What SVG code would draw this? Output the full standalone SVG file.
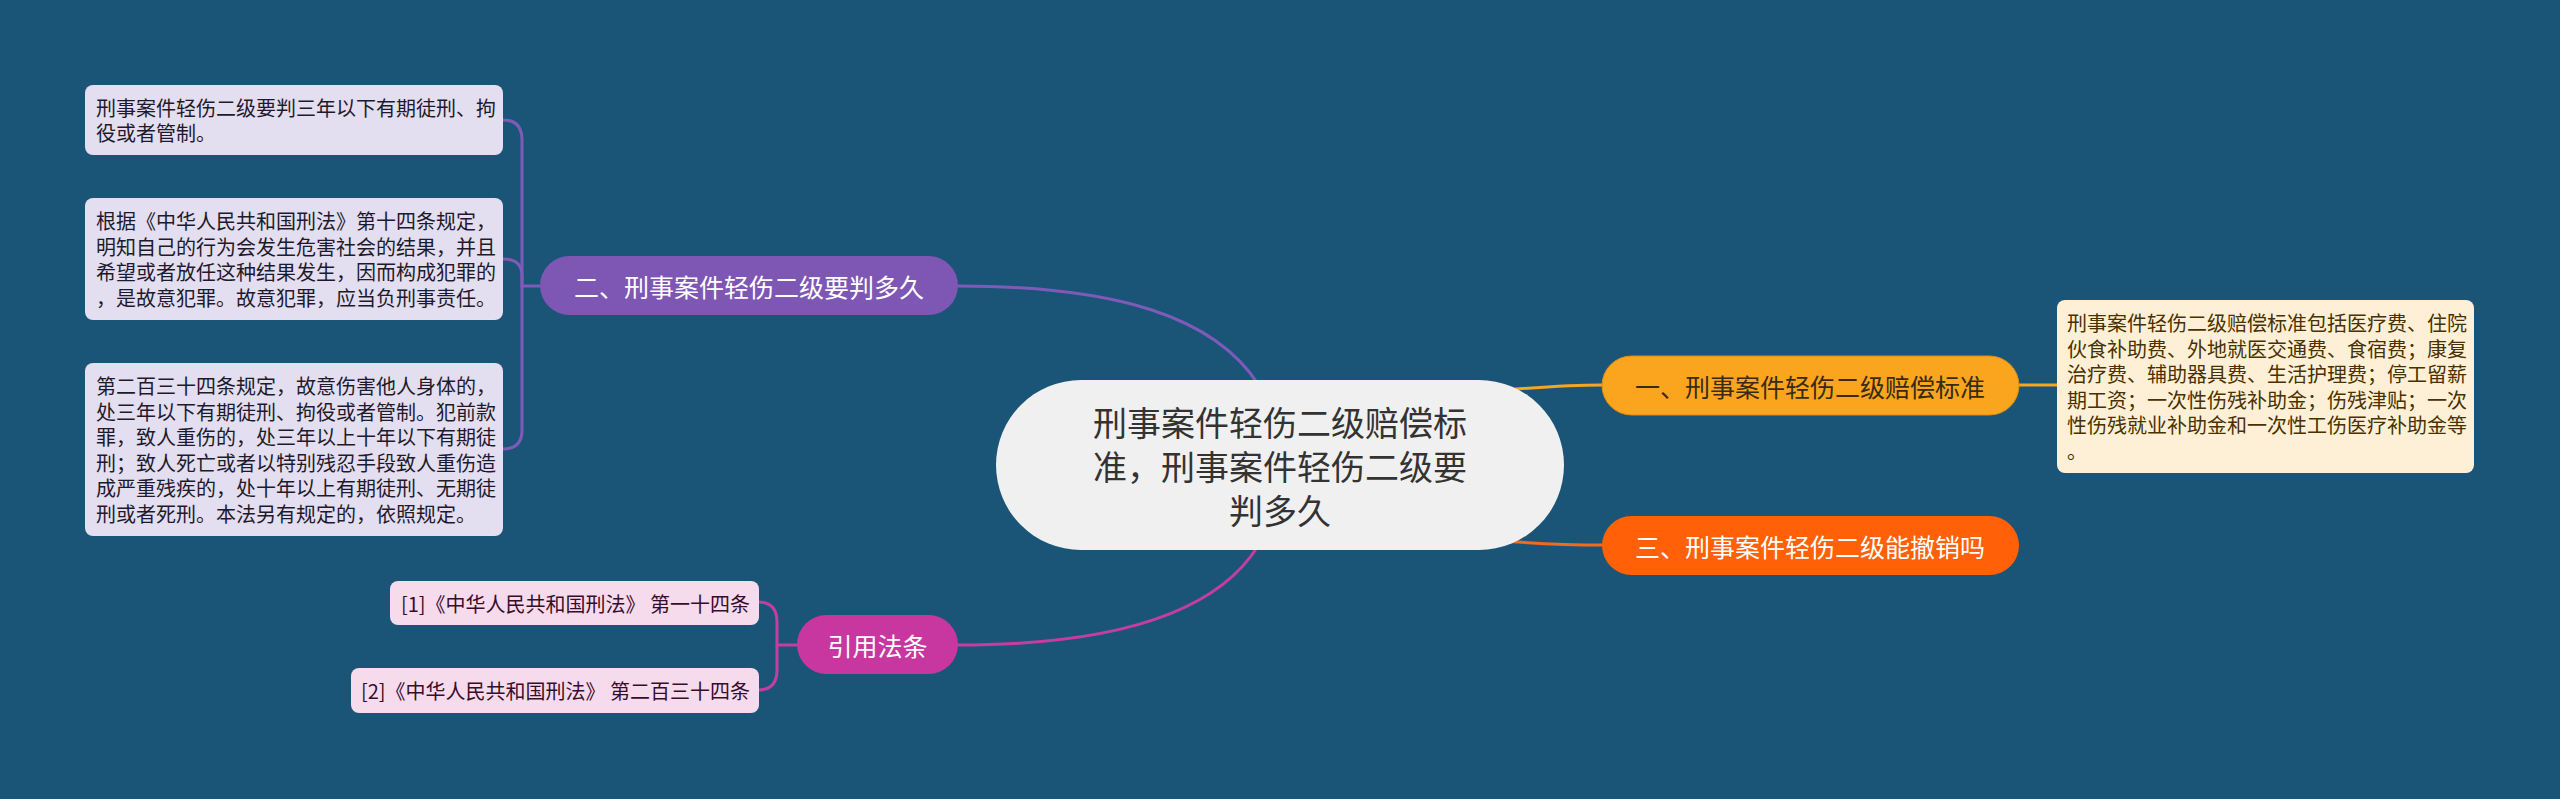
<svg xmlns="http://www.w3.org/2000/svg" width="2560" height="799" viewBox="0 0 2560 799">
<style>
text{font-family:"Noto Sans CJK SC","Noto Sans",sans-serif;dominant-baseline:central}
.conn{fill:none;stroke-width:3;stroke-linecap:round}
.pur{stroke:#7e5bb8}
.mag{stroke:#c63da0}
.org{stroke:#f5a623}
.red{stroke:#f26a1b}
.leafL rect{fill:#e3def0}
.leafL text{fill:#1e1a2c;font-size:20px}
.leafR rect{fill:#fdf0d6}
.leafR text{fill:#4a3100;font-size:20px}
.cite rect{fill:#f5dbec}
.cite text{fill:#3a0c2c;font-size:20px;text-anchor:end}
.main text{font-size:25px;text-anchor:middle}
</style>
<rect width="2560" height="799" fill="#1a5578"/>
<g id="connectors">
<path class="conn pur" d="M958 286 C1120 286 1215 318 1258 384"/>
<path class="conn mag" d="M1258 546 C1215 615 1110 645 958 645"/>
<path class="conn org" d="M1490 391 C1540 387 1570 385 1602 385"/>
<path class="conn red" d="M1490 540 C1540 544 1570 545 1602 545"/>
<path class="conn org" d="M2018 385 L2057 385"/>
<path class="conn pur" d="M540 286 L522 286 L522 140 Q522 120 503 120"/>
<path class="conn pur" d="M522 286 L522 276 Q522 259 503 259"/>
<path class="conn pur" d="M522 286 L522 430 Q522 449 503 449"/>
<path class="conn mag" d="M797 645 L777 645 L777 622 Q777 602 758 602"/>
<path class="conn mag" d="M777 645 L777 670 Q777 690 758 690"/>
</g>
<g id="center">
<rect x="996" y="380" width="568" height="170" rx="85" fill="#f0f0f0"/>
<text x="1280" y="421" font-size="34" fill="#333" text-anchor="middle">刑事案件轻伤二级赔偿标</text>
<text x="1280" y="465" font-size="34" fill="#333" text-anchor="middle">准，刑事案件轻伤二级要</text>
<text x="1280" y="509" font-size="34" fill="#333" text-anchor="middle">判多久</text>
</g>
<g id="n1" class="main">
<rect x="1602" y="356" width="417" height="59" rx="29.5" fill="#fba51f" stroke="#d88c18" stroke-width="1"/>
<text x="1810" y="386" fill="#3a2a12">一、刑事案件轻伤二级赔偿标准</text>
</g>
<g id="n1-leaf" class="leafR">
<rect x="2057" y="300" width="417" height="173" rx="8"/>
<text x="2067" y="322.75">刑事案件轻伤二级赔偿标准包括医疗费、住院</text>
<text x="2067" y="348.25">伙食补助费、外地就医交通费、食宿费；康复</text>
<text x="2067" y="373.75">治疗费、辅助器具费、生活护理费；停工留薪</text>
<text x="2067" y="399.25">期工资；一次性伤残补助金；伤残津贴；一次</text>
<text x="2067" y="424.75">性伤残就业补助金和一次性工伤医疗补助金等</text>
<text x="2067" y="450.25">。</text>
</g>
<g id="n3" class="main">
<rect x="1602" y="516" width="417" height="59" rx="29.5" fill="#ff6008"/>
<text x="1810" y="546" fill="#ffffff">三、刑事案件轻伤二级能撤销吗</text>
</g>
<g id="n2" class="main">
<rect x="540" y="256" width="418" height="59" rx="29.5" fill="#7e57b4"/>
<text x="749" y="286" fill="#ffffff">二、刑事案件轻伤二级要判多久</text>
</g>
<g id="n2-leaf1" class="leafL">
<rect x="85" y="85" width="418" height="70" rx="8"/>
<text x="96" y="107.25">刑事案件轻伤二级要判三年以下有期徒刑、拘</text>
<text x="96" y="132.75">役或者管制。</text>
</g>
<g id="n2-leaf2" class="leafL">
<rect x="85" y="198" width="418" height="122" rx="8"/>
<text x="96" y="220.75">根据《中华人民共和国刑法》第十四条规定，</text>
<text x="96" y="246.25">明知自己的行为会发生危害社会的结果，并且</text>
<text x="96" y="271.75">希望或者放任这种结果发生，因而构成犯罪的</text>
<text x="96" y="297.25">，是故意犯罪。故意犯罪，应当负刑事责任。</text>
</g>
<g id="n2-leaf3" class="leafL">
<rect x="85" y="363" width="418" height="173" rx="8"/>
<text x="96" y="385.75">第二百三十四条规定，故意伤害他人身体的，</text>
<text x="96" y="411.25">处三年以下有期徒刑、拘役或者管制。犯前款</text>
<text x="96" y="436.75">罪，致人重伤的，处三年以上十年以下有期徒</text>
<text x="96" y="462.25">刑；致人死亡或者以特别残忍手段致人重伤造</text>
<text x="96" y="487.75">成严重残疾的，处十年以上有期徒刑、无期徒</text>
<text x="96" y="513.25">刑或者死刑。本法另有规定的，依照规定。</text>
</g>
<g id="n4" class="main">
<rect x="797" y="615" width="161" height="59" rx="29.5" fill="#c8379f"/>
<text x="877.5" y="645" fill="#ffffff">引用法条</text>
</g>
<g id="n4-leaf1" class="cite">
<rect x="390" y="581" width="369" height="44" rx="8"/>
<text x="750" y="603">[1]《中华人民共和国刑法》 第一十四条</text>
</g>
<g id="n4-leaf2" class="cite">
<rect x="351" y="668" width="408" height="45" rx="8"/>
<text x="750" y="690.5">[2]《中华人民共和国刑法》 第二百三十四条</text>
</g>
</svg>
